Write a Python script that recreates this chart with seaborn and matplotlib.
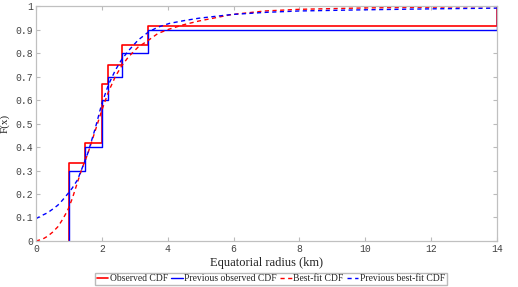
import numpy as np
import pandas as pd
import matplotlib
matplotlib.use("Agg")
import matplotlib.pyplot as plt
import seaborn as sns

# measured radii (km)
radii = [1.0, 1.0, 1.0, 1.0, 1.5, 2.0, 2.0, 2.0, 2.2, 2.6, 3.4, 14.0]
prev_radii = [1.0, 1.0, 1.0, 1.5, 2.0, 2.0, 2.2, 2.6, 3.4, 14.0]

# fitted CDFs
fit_x = [0, 0.2, 0.35, 0.5, 0.66, 0.8, 0.96, 1.1, 1.26, 1.4, 1.57, 1.8, 2.0, 2.2,
         2.41, 2.6, 2.81, 3.1, 3.42, 3.7, 4.05, 4.5, 4.94, 5.95, 6.96, 8, 10, 12, 14]
fit_y = [0.0, 0.008, 0.02, 0.037, 0.06, 0.09, 0.13, 0.18, 0.25, 0.31, 0.37, 0.47,
         0.557, 0.635, 0.70, 0.745, 0.784, 0.825, 0.855, 0.883, 0.902, 0.921, 0.936,
         0.964, 0.979, 0.986, 0.992, 0.995, 0.998]
prev_fit_y = [0.095, 0.11, 0.12, 0.135, 0.152, 0.173, 0.20, 0.225, 0.26, 0.31, 0.372,
              0.48, 0.585, 0.665, 0.727, 0.772, 0.81, 0.855, 0.89, 0.91, 0.926, 0.938,
              0.948, 0.964, 0.973, 0.979, 0.984, 0.988, 0.991]

x_ticks = [0, 2, 4, 6, 8, 10, 12, 14]
y_ticks = [0, 0.1, 0.2, 0.3, 0.4, 0.5, 0.6, 0.7, 0.8, 0.9, 1]
y_tick_labels = ["0", "0.1", "0.2", "0.3", "0.4", "0.5", "0.6", "0.7", "0.8", "0.9", "1"]


def ecdf_steps(values):
    # step points starting from zero at the first value
    s = pd.Series(values).value_counts().sort_index()
    cum = s.cumsum() / len(values)
    xs = [s.index[0]] + list(s.index)
    ys = [0.0] + list(cum.values)
    return pd.DataFrame({"x": xs, "y": ys})


sns.set_style("ticks")
plt.rcParams["font.family"] = ["Liberation Serif", "DejaVu Serif"]

fig = plt.figure(figsize=(5.18, 2.87), dpi=100)
ax = fig.add_axes([0.0695, 0.1603, 0.89, 0.8187])

obs = ecdf_steps(radii)
prev = ecdf_steps(prev_radii)

sns.lineplot(data=obs, x="x", y="y", ax=ax, estimator=None, sort=False,
             drawstyle="steps-post", color="red", lw=1.2, label="Observed CDF")
sns.lineplot(data=prev, x="x", y="y", ax=ax, estimator=None, sort=False,
             drawstyle="steps-post", color="blue", lw=1.0, label="Previous observed CDF")
sns.lineplot(x=fit_x, y=fit_y, ax=ax, estimator=None, sort=False, color="red",
             lw=1.0, dashes=False, label="Best-fit CDF", linestyle=(0, (3, 2.5)))
sns.lineplot(x=fit_x, y=prev_fit_y, ax=ax, estimator=None, sort=False, color="blue",
             lw=1.0, dashes=False, label="Previous best-fit CDF", linestyle=(0, (3, 2.5)))

ax.set_xlim(0, 14)
ax.set_ylim(0, 1)
ax.set_xticks(x_ticks)
ax.set_yticks(y_ticks)
ax.set_yticklabels(y_tick_labels)
for lab in ax.get_xticklabels() + ax.get_yticklabels():
    lab.set_family("Liberation Mono")
    lab.set_fontsize(7)
    lab.set_color("#444444")
ax.tick_params(direction="in", length=3, width=0.8, color="#bbbbbb",
               top=True, right=True, pad=2)
for sp in ax.spines.values():
    sp.set_color("#c0c0c0")
    sp.set_linewidth(0.9)
ax.set_xlabel("Equatorial radius (km)", fontsize=9, labelpad=2, color="#222222")
ax.set_ylabel("F(x)", fontsize=8, labelpad=4, color="#222222")

handles, labels = ax.get_legend_handles_labels()
ax.get_legend().remove()
fig.legend(handles, labels, loc="center", bbox_to_anchor=(0.523, 0.028), ncol=4,
           fontsize=6.9, frameon=True, fancybox=False, edgecolor="#aaaaaa",
           handlelength=1.2, handletextpad=0.15, columnspacing=0.35, borderpad=0.2,
           borderaxespad=0)

fig.savefig("out.png", dpi=100)
